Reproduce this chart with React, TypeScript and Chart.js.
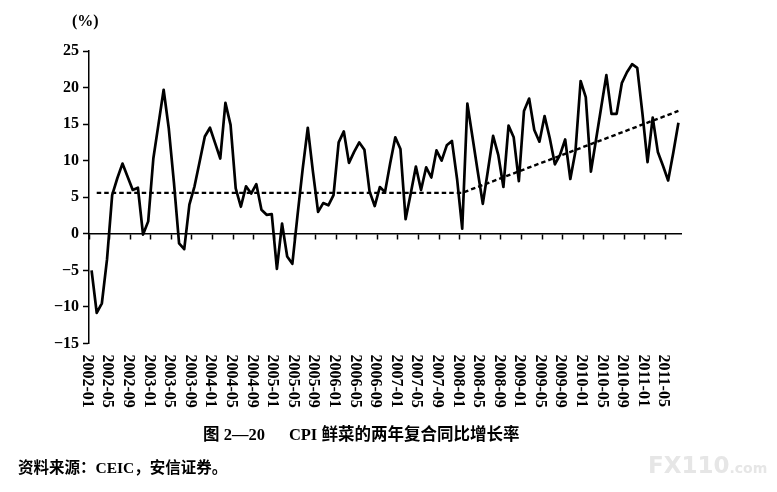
import { useEffect, useRef } from 'react'
import { Chart, registerables } from 'chart.js'
import type { Plugin } from 'chart.js'

Chart.register(...registerables)

// monthly categories 2002-01 .. 2011-07
const START_YEAR = 2002
const MONTH_COUNT = 115
const months: string[] = []
for (let i = 0; i < MONTH_COUNT; i++) {
  const y = START_YEAR + Math.floor(i / 12)
  const m = (i % 12) + 1
  months.push(`${y}-${String(m).padStart(2, '0')}`)
}

// CPI fresh vegetables, two-year compound YoY growth (%)
const vegYoY: number[] = [
  -5.0, -10.8, -9.5, -3.5, 5.3, 7.6, 9.6, 7.8, 6.0, 6.3, -0.1, 1.7,
  10.3, 15.0, 19.7, 14.4, 7.0, -1.3, -2.1, 4.0, 6.5, 9.9, 13.3, 14.5,
  12.4, 10.3, 17.9, 14.9, 6.2, 3.7, 6.5, 5.5, 6.8, 3.3, 2.6, 2.7,
  -4.8, 1.4, -3.1, -4.1, 2.5, 8.8, 14.5, 8.5, 3.0, 4.2, 3.9, 5.3,
  12.5, 14.0, 9.7, 11.2, 12.5, 11.5, 5.8, 3.8, 6.4, 5.7, 9.6, 13.2,
  11.6, 2.0, 5.5, 9.2, 6.0, 9.1, 7.7, 11.4, 10.0, 12.1, 12.7, 7.5,
  0.7, 17.8, 13.2, 8.6, 4.1, 8.7, 13.4, 10.8, 6.4, 14.8, 13.2, 7.2,
  16.8, 18.5, 14.2, 12.6, 16.1, 13.1, 9.5, 10.8, 12.9, 7.5, 11.3, 20.9,
  18.7, 8.5, 12.9, 17.3, 21.7, 16.4, 16.4, 20.6, 22.1, 23.2, 22.7, 16.5,
  9.8, 15.9, 11.2, 9.3, 7.3, 11.1, 15.2,
]

// dashed trend: flat level, then rising (month index, value)
const trendAnchors: [number, number][] = [
  [1, 5.6],
  [72, 5.6],
  [114, 16.8],
]

const yTicks = { min: -15, max: 25, step: 5 }
const LABEL_EVERY = 4

const SERIF = '"Liberation Serif", "Times New Roman", serif'

// x labels read top-to-bottom (rotated clockwise), placed at the category boundary ticks
const rotatedMonthLabels: Plugin<'line'> = {
  id: 'rotatedMonthLabels',
  afterDraw(chart) {
    const { ctx, chartArea } = chart
    const x = chart.scales.x
    const step = x.getPixelForValue(1) - x.getPixelForValue(0)
    ctx.save()
    ctx.font = `bold 16px ${SERIF}`
    ctx.fillStyle = '#000'
    ctx.textAlign = 'left'
    ctx.textBaseline = 'middle'
    months.forEach((label, i) => {
      if (i % LABEL_EVERY !== 0) return
      const px = x.getPixelForValue(i) - step / 2 - 2
      ctx.save()
      ctx.translate(px, chartArea.bottom + 11)
      ctx.rotate(Math.PI / 2)
      ctx.fillText(label, 0, 0)
      ctx.restore()
    })
    ctx.restore()
  },
}

function VegChart() {
  const canvasRef = useRef<HTMLCanvasElement>(null)
  const chartRef = useRef<Chart | null>(null)

  useEffect(() => {
    if (!canvasRef.current) return
    chartRef.current = new Chart(canvasRef.current, {
      type: 'line',
      data: {
        labels: months,
        datasets: [
          {
            label: 'CPI 鲜菜两年复合同比',
            data: vegYoY,
            borderColor: '#000',
            borderWidth: 2.7,
            borderJoinStyle: 'round',
            pointRadius: 0,
            tension: 0,
            fill: false,
          },
          {
            label: '趋势',
            data: trendAnchors.map(([i, v]) => ({ x: months[i], y: v })) as any,
            borderColor: '#000',
            borderWidth: 2.4,
            borderDash: [4.5, 3],
            pointRadius: 0,
            tension: 0,
            fill: false,
          },
        ],
      },
      options: {
        responsive: true,
        maintainAspectRatio: false,
        animation: false,
        layout: { padding: { top: 51, right: 96, left: 0, bottom: 0 } },
        plugins: {
          legend: { display: false },
          tooltip: { enabled: false },
        },
        scales: {
          x: {
            type: 'category',
            offset: true,
            grid: { display: false, drawTicks: false },
            border: { display: false },
            ticks: { display: false },
            afterFit: (s: any) => { s.height = 148.5 },
          },
          // zero line with month tick marks every 4 months
          x2: {
            type: 'category',
            axis: 'x',
            offset: true,
            position: { y: 0 },
            grid: {
              offset: true,
              drawOnChartArea: false,
              drawTicks: true,
              tickLength: 5,
              tickWidth: 1.5,
              tickColor: (c: any) => (c.index !== undefined && c.index % LABEL_EVERY === 0 ? '#000' : 'rgba(0,0,0,0)'),
            },
            border: { color: '#000', width: 1.5 },
            ticks: { display: false },
          } as any,
          y: {
            min: yTicks.min,
            max: yTicks.max,
            ticks: {
              stepSize: yTicks.step,
              color: '#000',
              padding: 4,
              font: { family: SERIF, size: 16, weight: 'bold' },
              callback: (v: any) => (Number(v) < 0 ? `−${Math.abs(Number(v))}` : `${v}`),
            },
            grid: { drawOnChartArea: false, tickLength: 6, tickWidth: 1.5, tickColor: '#000' },
            border: { color: '#000', width: 1.5 },
            afterFit: (s: any) => { s.width = 89 },
          },
        },
      },
      plugins: [rotatedMonthLabels],
    })
    return () => { chartRef.current?.destroy(); chartRef.current = null }
  }, [])

  return <canvas ref={canvasRef} />
}

export default function App() {
  useEffect(() => {
    document.body.style.margin = '0'
  }, [])

  return (
    <div style={{ position: 'relative', width: 777, height: 492, background: '#fff', overflow: 'hidden' }}>
      <div style={{ position: 'absolute', inset: 0 }}>
        <VegChart />
      </div>
      <div style={{
        position: 'absolute', left: 72, top: 12,
        font: `bold 16px ${SERIF}`, color: '#000',
      }}>
        (%)
      </div>
      <div style={{
        position: 'absolute', left: 203, top: 421, whiteSpace: 'nowrap',
        fontFamily: `"Liberation Serif", "Noto Sans CJK SC", serif`, fontWeight: 'bold', fontSize: 16.5, color: '#000',
      }}>
        图 2—20<span style={{ display: 'inline-block', width: 24 }} />CPI 鲜菜的两年复合同比增长率
      </div>
      <div style={{
        position: 'absolute', left: 18, top: 455, whiteSpace: 'nowrap',
        fontFamily: `"Liberation Serif", "Noto Sans CJK SC", serif`, fontWeight: 'bold', fontSize: 15.5, color: '#000',
      }}>
        资料来源：CEIC，安信证券。
      </div>
      <div style={{
        position: 'absolute', left: 648, top: 452, whiteSpace: 'nowrap',
        fontFamily: '"DejaVu Sans", sans-serif', fontWeight: 'bold', color: '#e6e6e6',
      }}>
        <span style={{ fontSize: 23 }}>FX110</span><span style={{ fontSize: 14 }}>.com</span>
      </div>
    </div>
  )
}
